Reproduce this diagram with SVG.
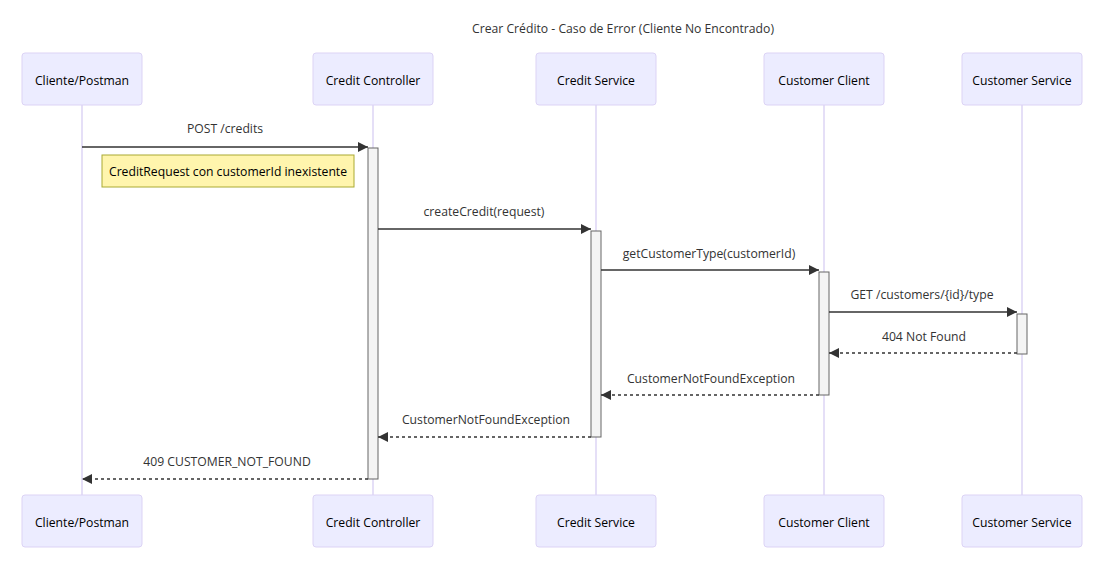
<svg xmlns="http://www.w3.org/2000/svg" width="1114" height="576" viewBox="0 0 1114 576">
<style>
.actor{fill:#ECECFF;stroke:#dcd3f5;stroke-width:1}
.atext{font-family:"Open Sans","Noto Sans",sans-serif;font-size:12.2px;fill:#000;text-anchor:middle;dominant-baseline:central}
.life{stroke:#ddd4f4;stroke-width:1.5}
.act{fill:#f4f4f4;stroke:#666;stroke-width:1}
.msg{stroke:#333;stroke-width:1.5;fill:none}
.dash{stroke-dasharray:3,3}
.mtext{font-family:"Open Sans","Noto Sans",sans-serif;font-size:12.2px;fill:#333;text-anchor:middle}
.note{fill:#fff5ad;stroke:#aaaa33;stroke-width:1}
.title{font-family:"Open Sans","Noto Sans",sans-serif;font-size:12.2px;fill:#333;text-anchor:middle}
</style>
<defs>
<marker id="arrow" viewBox="0 0 10 10" refX="10" refY="5" markerWidth="10" markerHeight="10" markerUnits="userSpaceOnUse" orient="auto">
<path d="M0,0 L10,5 L0,10 z" fill="#333"/>
</marker>
</defs>
<rect width="1114" height="576" fill="#fff"/>
<text class="title" x="623" y="33">Crear Crédito - Caso de Error (Cliente No Encontrado)</text>
<g id="lifelines">
<line class="life" x1="82" y1="105" x2="82" y2="495"/>
<line class="life" x1="373" y1="105" x2="373" y2="495"/>
<line class="life" x1="596" y1="105" x2="596" y2="495"/>
<line class="life" x1="824" y1="105" x2="824" y2="495"/>
<line class="life" x1="1022" y1="105" x2="1022" y2="495"/>
</g>
<g id="actor-cliente">
<rect class="actor" x="22" y="53" width="120" height="52" rx="3"/>
<text class="atext" x="82" y="80">Cliente/Postman</text>
<rect class="actor" x="22" y="495" width="120" height="52" rx="3"/>
<text class="atext" x="82" y="522">Cliente/Postman</text>
</g>
<g id="actor-controller">
<rect class="actor" x="313" y="53" width="120" height="52" rx="3"/>
<text class="atext" x="373" y="80">Credit Controller</text>
<rect class="actor" x="313" y="495" width="120" height="52" rx="3"/>
<text class="atext" x="373" y="522">Credit Controller</text>
</g>
<g id="actor-service">
<rect class="actor" x="536" y="53" width="120" height="52" rx="3"/>
<text class="atext" x="596" y="80">Credit Service</text>
<rect class="actor" x="536" y="495" width="120" height="52" rx="3"/>
<text class="atext" x="596" y="522">Credit Service</text>
</g>
<g id="actor-customerclient">
<rect class="actor" x="764" y="53" width="120" height="52" rx="3"/>
<text class="atext" x="824" y="80">Customer Client</text>
<rect class="actor" x="764" y="495" width="120" height="52" rx="3"/>
<text class="atext" x="824" y="522">Customer Client</text>
</g>
<g id="actor-customerservice">
<rect class="actor" x="962" y="53" width="120" height="52" rx="3"/>
<text class="atext" x="1022" y="80">Customer Service</text>
<rect class="actor" x="962" y="495" width="120" height="52" rx="3"/>
<text class="atext" x="1022" y="522">Customer Service</text>
</g>
<g id="activations">
<rect class="act" x="368" y="148" width="10" height="331"/>
<rect class="act" x="591" y="231" width="10" height="206"/>
<rect class="act" x="819" y="272" width="10" height="123"/>
<rect class="act" x="1017" y="314" width="10" height="40"/>
</g>
<g id="note">
<rect class="note" x="102" y="155" width="252" height="32"/>
<text class="atext" x="228" y="171" fill="#333">CreditRequest con customerId inexistente</text>
</g>
<g id="connectors">
<line class="msg" x1="82" y1="147" x2="368" y2="147" marker-end="url(#arrow)"/>
<text class="mtext" x="225" y="133">POST /credits</text>
<line class="msg" x1="378" y1="229" x2="591" y2="229" marker-end="url(#arrow)"/>
<text class="mtext" x="484" y="216">createCredit(request)</text>
<line class="msg" x1="601" y1="270" x2="819" y2="270" marker-end="url(#arrow)"/>
<text class="mtext" x="709" y="258">getCustomerType(customerId)</text>
<line class="msg" x1="829" y1="312" x2="1017" y2="312" marker-end="url(#arrow)"/>
<text class="mtext" x="922" y="299">GET /customers/{id}/type</text>
<line class="msg dash" x1="1017" y1="353" x2="829" y2="353" marker-end="url(#arrow)"/>
<text class="mtext" x="924" y="341">404 Not Found</text>
<line class="msg dash" x1="819" y1="395" x2="601" y2="395" marker-end="url(#arrow)"/>
<text class="mtext" x="711" y="383">CustomerNotFoundException</text>
<line class="msg dash" x1="591" y1="437" x2="378" y2="437" marker-end="url(#arrow)"/>
<text class="mtext" x="486" y="424">CustomerNotFoundException</text>
<line class="msg dash" x1="368" y1="479" x2="82" y2="479" marker-end="url(#arrow)"/>
<text class="mtext" x="227" y="466">409 CUSTOMER_NOT_FOUND</text>
</g>
</svg>
